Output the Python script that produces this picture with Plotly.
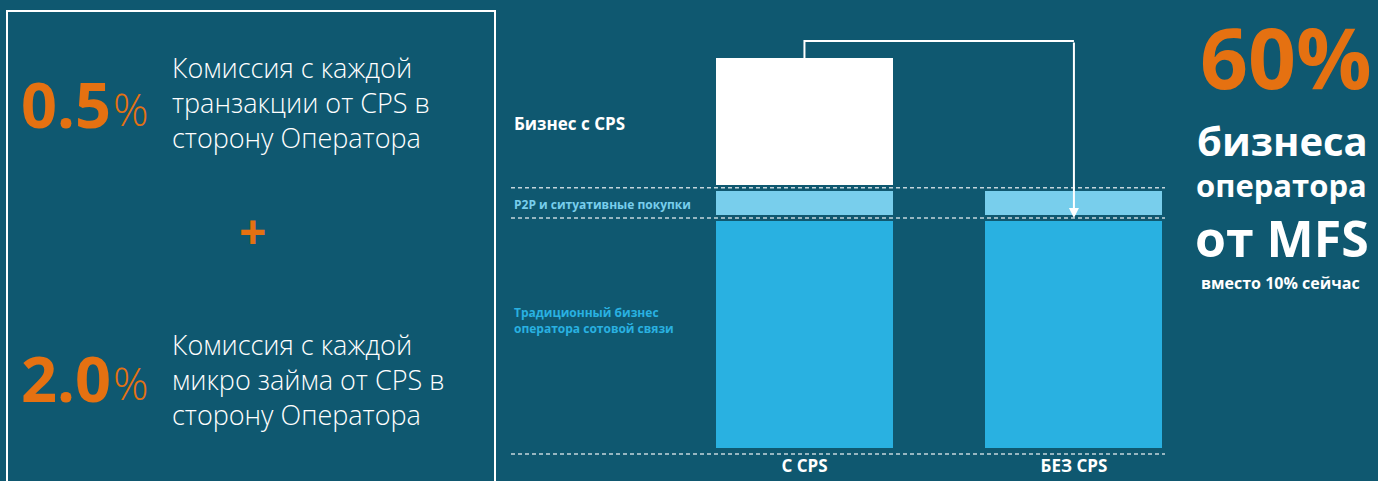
import plotly.graph_objects as go

# ---- data ----
categories = ["С CPS", "БЕЗ CPS"]
traditional = [100, 100]      # Традиционный бизнес оператора сотовой связи
p2p = [13, 13]                # P2P и ситуативные покупки
cps_business = [57, None]     # Бизнес с CPS
segment_names = ["Традиционный бизнес оператора сотовой связи",
                 "P2P и ситуативные покупки", "Бизнес с CPS"]

BG = "#0F5870"
ORANGE = "#E57111"
BLUE = "#29B1E1"
LIGHT = "#78CEEC"
W, H = 1378, 481


def px(x):
    return x / W


def py(y):
    return 1 - y / H


xs = [0, 1]
fig = go.Figure()
for vals, col, name in [(traditional, BLUE, segment_names[0]),
                        (p2p, LIGHT, segment_names[1]),
                        (cps_business, "#FFFFFF", segment_names[2])]:
    fig.add_trace(go.Bar(x=xs, y=vals, name=name, width=0.679,
                         marker=dict(color=col, line=dict(color=BG, width=6)),
                         hoverinfo="skip"))

top1 = traditional[0] + p2p[0] + cps_business[0]
arrow_y = top1 + 6

shapes = []
# left framed box
shapes.append(dict(type="rect", xref="paper", yref="paper",
                   x0=px(7), x1=px(495), y0=py(495), y1=py(11),
                   line=dict(color="white", width=2), layer="below"))
# dashed guide lines
dash_style = dict(color="#C5D5DC", width=1.5, dash="4px,3px")
for yv in [traditional[0], traditional[0] + p2p[0]]:
    shapes.append(dict(type="line", xref="paper", yref="y",
                       x0=px(511), x1=px(1165), y0=yv, y1=yv, line=dash_style))
shapes.append(dict(type="line", xref="paper", yref="paper",
                   x0=px(511), x1=px(1165), y0=py(454), y1=py(454), line=dash_style))
# arrow connector
shapes.append(dict(type="path", xref="x", yref="y",
                   path=f"M 0,{top1 - 1.3} V {arrow_y} H 1",
                   line=dict(color="white", width=2)))

FB = "Open Sans"
ann = []
ann.append(dict(x=1, y=traditional[0], ax=1, ay=arrow_y, xref="x", yref="y",
                axref="x", ayref="y", text="", showarrow=True, arrowhead=2,
                arrowsize=1, arrowwidth=2, arrowcolor="white", standoff=0))


def t(x, y, text, size, color="white", xanchor="left", weight="normal",
      family=FB, align="left"):
    ann.append(dict(x=px(x), y=py(y), xref="paper", yref="paper", text=text,
                    showarrow=False, xanchor=xanchor, yanchor="middle",
                    align=align, borderpad=0,
                    font=dict(size=size, color=color, family=family, weight=weight)))


# chart labels
t(513, 123, "Бизнес с CPS", 17, weight="bold")
t(513, 204, "P2P и ситуативные покупки", 12, color=LIGHT, weight="bold")
t(513, 320, "Традиционный бизнес<br>оператора сотовой связи", 12,
  color=BLUE, weight="bold")

# left panel
block1 = ["Комиссия с каждой", "транзакции от CPS в", "сторону Оператора"]
block2 = ["Комиссия с каждой", "микро займа от CPS в", "сторону Оператора"]
t(112, 103, "0.5", 63, color=ORANGE, xanchor="right", weight="bold")
t(112, 109, "%", 44, color=ORANGE, weight=300)
t(171, 102, "<br>".join(block1), 27, weight=300)
t(252, 230, "+", 48, color=ORANGE, xanchor="center", weight="bold")
t(112, 377, "2.0", 63, color=ORANGE, xanchor="right", weight="bold")
t(112, 383, "%", 44, color=ORANGE, weight=300)
t(171, 379, "<br>".join(block2), 27, weight=300)

# right panel
t(1286, 57, "60%", 84, color=ORANGE, xanchor="center", weight="bold")
t(1282, 140, "бизнеса", 40, xanchor="center", weight="bold")
t(1281, 185, "оператора", 31, xanchor="center", weight="bold")
t(1282, 238, "от MFS", 50, xanchor="center", weight="bold")
t(1280, 283, "вместо 10% сейчас", 16, xanchor="center", weight="bold")

fig.update_layout(
    width=W, height=H, margin=dict(l=0, r=0, t=0, b=0),
    paper_bgcolor=BG, plot_bgcolor=BG, barmode="stack", showlegend=False,
    shapes=shapes, annotations=ann,
    xaxis=dict(domain=[px(511), px(1165)], range=[-1.089, 1.338],
               tickvals=xs, ticktext=categories, showgrid=False,
               zeroline=False, showline=False, ticks="",
               tickfont=dict(family=FB, size=17, color="white", weight="bold")),
    yaxis=dict(domain=[py(454), py(30)], range=[-1.29, 180.7],
               showgrid=False, zeroline=False, showticklabels=False),
)
fig.write_html("out.html", config={"displayModeBar": False},
               post_script="document.body.style.margin='0px';"
                           "document.body.style.background='" + BG + "';")
